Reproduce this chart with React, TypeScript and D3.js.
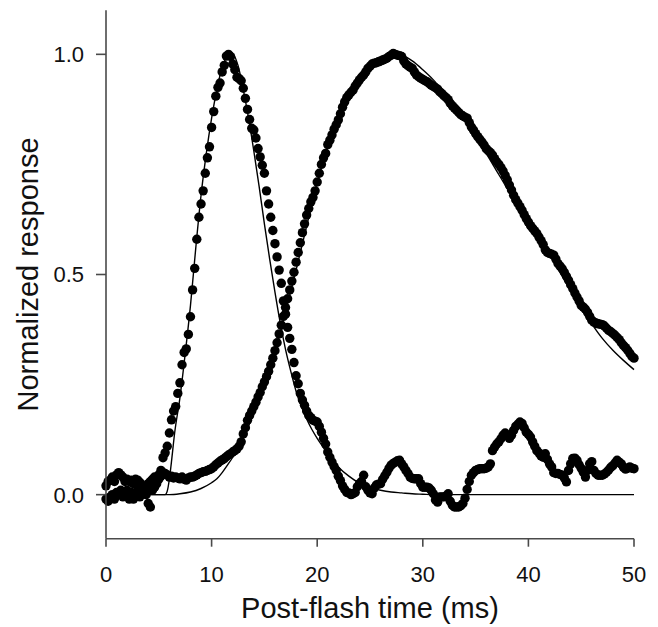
import React from "react";
import * as d3 from "d3";

const width = 658;
const height = 627;
const margin = { top: 10.3, right: 24, bottom: 88.3, left: 106 };

// sampling interval of the recordings (ms)
const sampleStep = 0.2;

// fast response, normalized, one value per sample
const fastResponse = [
  -0.01, -0.015, -0.005, 0.0, -0.01, 0.005, 0.0, 0.01, -0.005, 0.0, 0.01, -0.01, 0.005, -0.01, 0.0, 0.01, -0.005, 0.005, 0.015, 0.0, -0.02, -0.028, 0.01, 0.017, 0.025,
  0.035, 0.055, 0.084, 0.095, 0.11, 0.14, 0.17, 0.19, 0.2, 0.23, 0.254, 0.295, 0.323, 0.331, 0.364, 0.404, 0.465, 0.514, 0.58, 0.63, 0.66, 0.69, 0.73, 0.765, 0.79,
  0.834, 0.87, 0.905, 0.925, 0.935, 0.96, 0.975, 0.996, 1.0, 0.995, 0.978, 0.965, 0.948, 0.945, 0.94, 0.923, 0.9, 0.875, 0.852, 0.832, 0.828, 0.81, 0.786, 0.767, 0.748,
  0.73, 0.69, 0.66, 0.63, 0.6, 0.57, 0.54, 0.51, 0.48, 0.44, 0.41, 0.38, 0.355, 0.33, 0.3, 0.27, 0.252, 0.23, 0.215, 0.203, 0.19, 0.18, 0.175, 0.169, 0.167,
  0.165, 0.155, 0.142, 0.128, 0.115, 0.097, 0.085, 0.074, 0.064, 0.055, 0.042, 0.032, 0.02, 0.012, 0.005, 0.004, 0.0, 0.002, 0.005, 0.018, 0.025, 0.03, 0.044, 0.018, 0.01,
  0.004, 0.002, 0.015, 0.022, 0.024, 0.025, 0.035, 0.043, 0.051, 0.06, 0.067, 0.071, 0.074, 0.077, 0.078, 0.07, 0.063, 0.055, 0.048, 0.04, 0.037, 0.036, 0.036, 0.036, 0.025,
  0.017, 0.017, 0.017, 0.015, 0.01, 0.002, -0.012, -0.017, -0.005, -0.005, -0.005, -0.003, 0.002, -0.015, -0.024, -0.028, -0.028, -0.028, -0.025, -0.02, -0.008, 0.012, 0.03, 0.044, 0.05,
  0.055, 0.057, 0.059, 0.059, 0.059, 0.06, 0.063, 0.07, 0.1, 0.108, 0.115, 0.12, 0.127, 0.135, 0.14, 0.135, 0.128, 0.135, 0.146, 0.155, 0.16, 0.165, 0.162, 0.152, 0.142,
  0.137, 0.131, 0.12, 0.11, 0.1, 0.095, 0.088, 0.085, 0.093, 0.08, 0.07, 0.063, 0.05, 0.048, 0.048, 0.046, 0.044, 0.038, 0.029, 0.055, 0.07, 0.082, 0.083, 0.078, 0.068,
  0.06, 0.051, 0.04, 0.055, 0.07, 0.075, 0.055, 0.048, 0.044, 0.044, 0.044, 0.047, 0.051, 0.056, 0.062, 0.066, 0.072, 0.078, 0.074, 0.07, 0.062, 0.058, 0.06, 0.063, 0.06, 0.059,
];

// slow response, normalized, one value per sample
const slowResponse = [
  0.02, 0.03, 0.033, 0.04, 0.03, 0.045, 0.05, 0.045, 0.04, 0.03, 0.035, 0.03, 0.033, 0.025, 0.035, 0.033, 0.028, 0.02, 0.015, 0.02, 0.025, 0.03, 0.035, 0.04, 0.035,
  0.045, 0.042, 0.05, 0.048, 0.045, 0.04, 0.042, 0.038, 0.04, 0.038, 0.036, 0.04, 0.035, 0.033, 0.038, 0.04, 0.04, 0.042, 0.045, 0.048, 0.05, 0.052, 0.053, 0.055, 0.057,
  0.059, 0.063, 0.068, 0.072, 0.076, 0.079, 0.082, 0.086, 0.09, 0.093, 0.097, 0.1, 0.104, 0.11, 0.12, 0.138, 0.152, 0.169, 0.18, 0.19, 0.2, 0.21, 0.222, 0.232, 0.245,
  0.256, 0.268, 0.28, 0.295, 0.31, 0.327, 0.345, 0.365, 0.385, 0.405, 0.425, 0.445, 0.465, 0.485, 0.505, 0.528, 0.55, 0.572, 0.595, 0.615, 0.635, 0.65, 0.665, 0.675, 0.69,
  0.71, 0.73, 0.75, 0.765, 0.775, 0.795, 0.805, 0.817, 0.83, 0.84, 0.851, 0.865, 0.88, 0.892, 0.902, 0.908, 0.914, 0.919, 0.928, 0.935, 0.942, 0.948, 0.953, 0.96, 0.968,
  0.973, 0.978, 0.98, 0.981, 0.983, 0.985, 0.987, 0.989, 0.991, 0.995, 0.998, 1.002, 1.0, 0.998, 0.997, 0.995, 0.985, 0.978, 0.974, 0.971, 0.968, 0.96, 0.953, 0.949, 0.946,
  0.943, 0.94, 0.938, 0.934, 0.93, 0.927, 0.924, 0.921, 0.915, 0.911, 0.906, 0.902, 0.897, 0.889, 0.883, 0.878, 0.873, 0.868, 0.863, 0.86, 0.857, 0.855, 0.845, 0.835, 0.828,
  0.82, 0.813, 0.807, 0.801, 0.794, 0.786, 0.781, 0.777, 0.771, 0.763, 0.756, 0.75, 0.743, 0.735, 0.725, 0.715, 0.703, 0.692, 0.68, 0.67, 0.662, 0.654, 0.646, 0.636, 0.627,
  0.619, 0.611, 0.605, 0.599, 0.593, 0.585, 0.577, 0.568, 0.556, 0.55, 0.548, 0.546, 0.544, 0.535, 0.525, 0.519, 0.513, 0.505, 0.496, 0.487, 0.477, 0.468, 0.458, 0.449, 0.44,
  0.43, 0.426, 0.421, 0.414, 0.405, 0.396, 0.392, 0.39, 0.388, 0.387, 0.386, 0.383, 0.378, 0.373, 0.37, 0.366, 0.362, 0.357, 0.352, 0.345, 0.339, 0.334, 0.328, 0.321, 0.314, 0.31,
];

// fitted curves
const fastFitTime = [0, 5.6, 5.8, 6.0, 6.2, 6.5, 7.0, 7.5, 8.0, 8.5, 9.0, 9.5, 10.0, 10.5, 11.0, 11.5, 12.0, 12.5, 13.0, 13.5, 14.0, 14.5, 15.0, 15.5, 16.0, 16.5, 17.0, 17.5, 18.0, 18.5, 19.0, 19.5, 20.0, 20.5, 21.0, 22.0, 23.0, 24.0, 25.0, 26.0, 27.0, 28.0, 29.0, 30.0, 31.0, 50.0];
const fastFitValue = [0, 0.0, 0.008, 0.035, 0.075, 0.14, 0.22, 0.32, 0.43, 0.56, 0.68, 0.775, 0.855, 0.92, 0.97, 0.995, 1.0, 0.975, 0.92, 0.855, 0.78, 0.7, 0.615, 0.535, 0.46, 0.39, 0.33, 0.28, 0.235, 0.2, 0.172, 0.148, 0.128, 0.11, 0.093, 0.063, 0.042, 0.026, 0.016, 0.01, 0.006, 0.004, 0.002, 0.001, 0, 0];

const slowFitTime = [0, 6, 7, 8, 9, 10, 10.5, 11, 11.5, 12, 12.5, 13, 14, 15, 16, 17, 18, 19, 20, 21, 22, 23, 24, 25, 26, 27, 28, 29, 30, 31, 32, 33, 34, 35, 36, 37, 38, 39, 40, 41, 42, 43, 44, 45, 46, 47, 48, 49, 50];
const slowFitValue = [0, 0.0, 0.002, 0.006, 0.014, 0.027, 0.036, 0.05, 0.067, 0.085, 0.107, 0.13, 0.185, 0.25, 0.325, 0.415, 0.51, 0.61, 0.71, 0.79, 0.855, 0.905, 0.945, 0.972, 0.99, 0.999, 0.998, 0.985, 0.965, 0.942, 0.913, 0.882, 0.848, 0.812, 0.775, 0.735, 0.695, 0.655, 0.615, 0.58, 0.545, 0.505, 0.465, 0.425, 0.388, 0.355, 0.328, 0.305, 0.284];

const xTicks = [0, 10, 20, 30, 40, 50];
const yTicks = [0, 0.5, 1.0];

const axisColor = "#4a4a4a";
const font = "'Liberation Sans', Arial, Helvetica, sans-serif";

export default function App() {
  const xScale = d3.scaleLinear().domain([0, 50]).range([margin.left, width - margin.right]);
  const yScale = d3.scaleLinear().domain([-0.1, 1.1]).range([height - margin.bottom, margin.top]);

  const toPoints = (vals: number[]) => vals.map((v, i) => [i * sampleStep, v] as [number, number]);
  const fastPts = toPoints(fastResponse);
  const slowPts = toPoints(slowResponse);

  const line = d3
    .line<[number, number]>()
    .x(d => xScale(d[0]))
    .y(d => yScale(d[1]))
    .curve(d3.curveMonotoneX);

  const fastFit = line(fastFitTime.map((t, i) => [t, fastFitValue[i]]));
  const slowFit = line(slowFitTime.map((t, i) => [t, slowFitValue[i]]));

  const x0 = xScale(0);
  const yBottom = yScale(-0.1);
  const fmt = d3.format(".1f");

  return (
    <svg width={width} height={height} style={{ position: "absolute", left: 0, top: 0, background: "#fff" }}>
      <path d={fastFit || ""} fill="none" stroke="#000" strokeWidth={1.4} />
      <path d={slowFit || ""} fill="none" stroke="#000" strokeWidth={1.4} />

      {slowPts.map((p, i) => (
        <circle key={"s" + i} cx={xScale(p[0])} cy={yScale(p[1])} r={4.7} fill="#000" />
      ))}
      {fastPts.map((p, i) => (
        <circle key={"f" + i} cx={xScale(p[0])} cy={yScale(p[1])} r={4.7} fill="#000" />
      ))}

      {/* axes */}
      <line x1={x0} x2={x0} y1={margin.top} y2={yBottom} stroke={axisColor} strokeWidth={1.6} />
      <line x1={x0} x2={xScale(50)} y1={yBottom} y2={yBottom} stroke={axisColor} strokeWidth={1.6} />

      {xTicks.map(t => (
        <g key={"xt" + t}>
          <line x1={xScale(t)} x2={xScale(t)} y1={yBottom} y2={yBottom + 8} stroke={axisColor} strokeWidth={1.6} />
          <text x={xScale(t)} y={582} textAnchor="middle" fontSize={22} fontFamily={font} fill="#111">
            {t}
          </text>
        </g>
      ))}

      {yTicks.map(t => (
        <g key={"yt" + t}>
          <line x1={x0 - 10} x2={x0} y1={yScale(t)} y2={yScale(t)} stroke={axisColor} strokeWidth={1.6} />
          <text x={84} y={yScale(t)} dy="0.36em" textAnchor="end" fontSize={22} fontFamily={font} fill="#111">
            {fmt(t)}
          </text>
        </g>
      ))}

      <text x={(xScale(0) + xScale(50)) / 2} y={618} textAnchor="middle" fontSize={29} fontFamily={font} fill="#111">
        Post-flash time (ms)
      </text>
      <text
        transform={`translate(38, ${(margin.top + yBottom) / 2}) rotate(-90)`}
        textAnchor="middle"
        fontSize={29}
        fontFamily={font}
        fill="#111"
      >
        Normalized response
      </text>
    </svg>
  );
}
